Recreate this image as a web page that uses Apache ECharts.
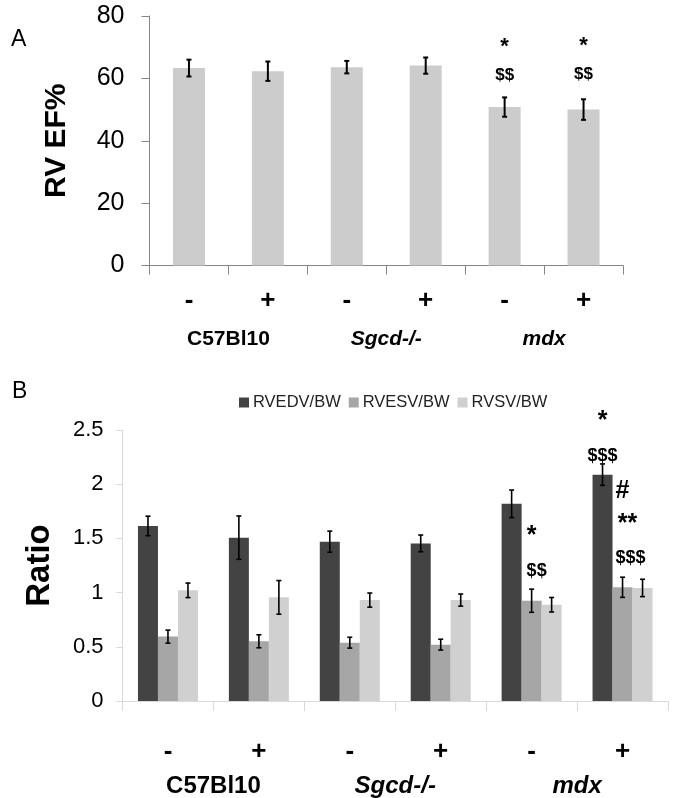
<!DOCTYPE html>
<html><head><meta charset="utf-8">
<script src="https://cdn.jsdelivr.net/npm/echarts@6/dist/echarts.min.js"></script>
<style>html,body{margin:0;padding:0;background:#fff}#c{width:675px;height:798px}</style>
</head><body><div id="c"></div>
<script>
// ---- data ----
const treatments = ["-", "+", "-", "+", "-", "+"];
const strains = ["C57Bl10", "Sgcd-/-", "mdx"];
const efMean = [63.3, 62.3, 63.6, 64.1, 50.8, 50.0];
const efErr = [2.7, 3.1, 2.0, 2.6, 3.1, 3.3];
const seriesNames = ["RVEDV/BW", "RVESV/BW", "RVSV/BW"];
const edvMean = [1.615, 1.507, 1.47, 1.454, 1.819, 2.088];
const edvErr = [0.09, 0.2, 0.097, 0.077, 0.127, 0.099];
const esvMean = [0.594, 0.551, 0.538, 0.52, 0.925, 1.049];
const esvErr = [0.06, 0.06, 0.05, 0.05, 0.107, 0.093];
const svMean = [1.021, 0.956, 0.931, 0.931, 0.888, 1.043];
const svErr = [0.067, 0.155, 0.065, 0.056, 0.067, 0.08];
// significance marks: text, category index, y value (panel A)
const annotAText = ["*", "$$", "*", "$$"];
const annotACat = [4, 4, 5, 5];
const annotAY = [70.0, 60.9, 70.4, 61.4];
// panel B: text, category index, series index, y value
const annotBText = ["*", "$$", "*", "$$$", "#", "**", "$$$"];
const annotBCat = [4, 4, 5, 5, 5, 5, 5];
const annotBSer = [1, 1, 0, 0, 1, 1, 1];
const annotBY = [1.52, 1.20, 2.58, 2.26, 1.94, 1.63, 1.32];

const FONT = 'Liberation Sans, Arial, sans-serif';
const chart = echarts.init(document.getElementById('c'), null, {renderer: 'canvas'});

function errRender(offset, lw, cap) {
  return function (params, api) {
    const i = api.value(0), m = api.value(1), e = api.value(2);
    const t = api.coord([i, m + e]);
    const b = api.coord([i, m - e]);
    const cx = t[0] + offset;
    const st = {stroke: '#000', lineWidth: lw};
    return {type: 'group', children: [
      {type: 'line', shape: {x1: cx, y1: t[1], x2: cx, y2: b[1]}, style: st},
      {type: 'line', shape: {x1: cx - cap, y1: t[1], x2: cx + cap, y2: t[1]}, style: st},
      {type: 'line', shape: {x1: cx - cap, y1: b[1], x2: cx + cap, y2: b[1]}, style: st}
    ]};
  };
}
function textRender(texts, offsetFn, fontFn) {
  return function (params, api) {
    const p = api.coord([api.value(0), api.value(1)]);
    const k = params.dataIndex;
    return {type: 'text', x: p[0] + offsetFn(k), y: p[1],
      style: {text: texts[k], font: fontFn(texts[k]), fill: '#000', align: 'center', verticalAlign: 'middle'}};
  };
}
const richStrain = {
  n: {fontFamily: FONT, fontWeight: 'bold', fontSize: 21, color: '#000'},
  i: {fontFamily: FONT, fontWeight: 'bold', fontStyle: 'italic', fontSize: 21, color: '#000'}
};
const richStrainB = {
  n: {fontFamily: FONT, fontWeight: 'bold', fontSize: 24, color: '#000'},
  i: {fontFamily: FONT, fontWeight: 'bold', fontStyle: 'italic', fontSize: 24, color: '#000'}
};
const strainFmt = (v, idx) => idx === 0 ? '{n|' + v + '}' : '{i|' + v + '}';

const option = {
  animation: false,
  textStyle: {fontFamily: FONT},
  title: [
    {text: 'A', left: 6, top: 23, textStyle: {fontFamily: FONT, fontSize: 23, fontWeight: 'normal', color: '#000'}},
    {text: 'B', left: 7, top: 375, textStyle: {fontFamily: FONT, fontSize: 23, fontWeight: 'normal', color: '#000'}}
  ],
  legend: {
    data: seriesNames, left: 239, top: 394, icon: 'rect', itemWidth: 10, itemHeight: 10, itemGap: 8, padding: 0,
    textStyle: {fontFamily: FONT, fontSize: 16.5, color: '#222', padding: [0, 0, 0, -1]}
  },
  grid: [
    {left: 149.5, right: 52, top: 16, height: 249.5},
    {left: 122.5, right: 7, top: 430, height: 271.3}
  ],
  xAxis: [
    {type: 'category', gridIndex: 0, data: treatments,
      axisLine: {lineStyle: {color: '#868686', width: 1}},
      axisTick: {show: true, length: 9, lineStyle: {color: '#868686'}},
      axisLabel: {interval: 0, margin: 22, fontSize: 26, fontWeight: 'bold', color: '#000'}},
    {type: 'category', gridIndex: 0, data: strains, position: 'bottom',
      axisLine: {show: false}, axisTick: {show: false},
      axisLabel: {interval: 0, margin: 63, formatter: strainFmt, rich: richStrain}},
    {type: 'category', gridIndex: 1, data: treatments,
      axisLine: {lineStyle: {color: '#d9d9d9', width: 1}},
      axisTick: {show: true, length: 10, lineStyle: {color: '#d9d9d9'}},
      axisLabel: {interval: 0, margin: 38, fontSize: 26, fontWeight: 'bold', color: '#000'}},
    {type: 'category', gridIndex: 1, data: strains, position: 'bottom',
      axisLine: {show: false}, axisTick: {show: false},
      axisLabel: {interval: 0, margin: 73, formatter: strainFmt, rich: richStrainB}}
  ],
  yAxis: [
    {type: 'value', gridIndex: 0, min: 0, max: 80, interval: 20,
      name: 'RV EF%', nameLocation: 'middle', nameGap: 78,
      nameTextStyle: {fontFamily: FONT, fontSize: 30, fontWeight: 'bold', color: '#000'},
      axisLine: {show: true, lineStyle: {color: '#868686'}},
      axisTick: {show: true, length: 8, lineStyle: {color: '#868686'}},
      splitLine: {show: false},
      axisLabel: {margin: 25, fontSize: 25, color: '#000'}},
    {type: 'value', gridIndex: 1, min: 0, max: 2.5, interval: 0.5,
      name: 'Ratio', nameLocation: 'middle', nameGap: 66,
      nameTextStyle: {fontFamily: FONT, fontSize: 33, fontWeight: 'bold', color: '#000'},
      axisLine: {show: true, lineStyle: {color: '#d9d9d9'}},
      axisTick: {show: true, length: 6, lineStyle: {color: '#d9d9d9'}},
      splitLine: {show: false},
      axisLabel: {margin: 19, fontSize: 22, color: '#000'}}
  ],
  series: [
    {type: 'bar', xAxisIndex: 0, yAxisIndex: 0, data: efMean, barWidth: 32, itemStyle: {color: '#cccccc'}},
    {type: 'custom', xAxisIndex: 0, yAxisIndex: 0, data: efMean.map((m, i) => [i, m, efErr[i]]),
      renderItem: errRender(0, 2, 2.5), z: 5},
    {type: 'custom', xAxisIndex: 0, yAxisIndex: 0, data: annotACat.map((c, k) => [c, annotAY[k]]),
      renderItem: textRender(annotAText, k => 0, t => 'bold ' + (t === '*' ? 22 : 17) + 'px ' + FONT), z: 6},

    {name: seriesNames[0], type: 'bar', xAxisIndex: 2, yAxisIndex: 1, data: edvMean, barWidth: 20, barGap: '0%', itemStyle: {color: '#434343'}},
    {name: seriesNames[1], type: 'bar', xAxisIndex: 2, yAxisIndex: 1, data: esvMean, barWidth: 20, barGap: '0%', itemStyle: {color: '#a6a6a6'}},
    {name: seriesNames[2], type: 'bar', xAxisIndex: 2, yAxisIndex: 1, data: svMean, barWidth: 20, barGap: '0%', itemStyle: {color: '#d0d0d0'}},
    {type: 'custom', xAxisIndex: 2, yAxisIndex: 1, data: edvMean.map((m, i) => [i, m, edvErr[i]]), renderItem: errRender(-20, 1.6, 2.5), z: 5},
    {type: 'custom', xAxisIndex: 2, yAxisIndex: 1, data: esvMean.map((m, i) => [i, m, esvErr[i]]), renderItem: errRender(0, 1.6, 2.5), z: 5},
    {type: 'custom', xAxisIndex: 2, yAxisIndex: 1, data: svMean.map((m, i) => [i, m, svErr[i]]), renderItem: errRender(20, 1.6, 2.5), z: 5},
    {type: 'custom', xAxisIndex: 2, yAxisIndex: 1, data: annotBCat.map((c, k) => [c, annotBY[k]]),
      renderItem: textRender(annotBText, k => (annotBSer[k] - 1) * 20 + (annotBText[k] === '**' ? 5 : annotBText[k] === '$$$' && annotBSer[k] === 1 ? 8 : (annotBText[k] === '$$' ? 5 : 0)),
        t => 'bold ' + (t.indexOf('$') >= 0 ? 18 : 25) + 'px ' + FONT), z: 6}
  ]
};
chart.setOption(option);
</script>
</body></html>
